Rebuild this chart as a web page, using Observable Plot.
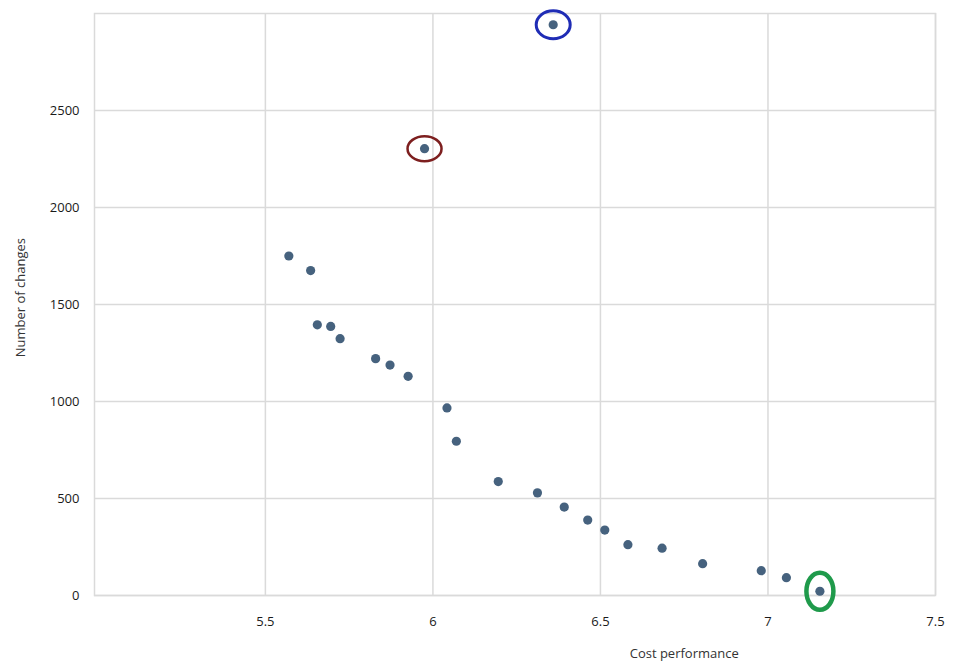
<!DOCTYPE html>
<html>
<head>
<meta charset="utf-8">
<script src="https://cdn.jsdelivr.net/npm/d3@7"></script>
<script src="https://cdn.jsdelivr.net/npm/@observablehq/plot@0.6"></script>
<style>
  html, body { margin: 0; padding: 0; background: #fff; }
  #chart svg { display: block; }
</style>
</head>
<body>
<div id="chart"></div>
<script>
// ---- data ----
const costPerformance = [5.570, 5.635, 5.655, 5.695, 5.723, 5.829, 5.872, 5.926, 5.975, 6.042, 6.070, 6.195, 6.312, 6.359, 6.392, 6.462, 6.513, 6.582, 6.684, 6.805, 6.980, 7.055, 7.155];
const numberOfChanges = [1750, 1675, 1395, 1387, 1324, 1221, 1188, 1130, 2303, 967, 795, 587, 529, 2942, 456, 389, 337, 262, 244, 164, 128, 92, 22];
// highlighted points (index into the series) and their ring colours
const highlightIndex = [8, 13, 22];
const highlightColor = ["#7d1f1f", "#1f2cb5", "#1f9a4b"];
const xTicks = [5.5, 6, 6.5, 7, 7.5];
const yTicks = [0, 500, 1000, 1500, 2000, 2500];
const xLabel = "Cost performance";
const yLabel = "Number of changes";

const data = costPerformance.map((x, i) => ({x, y: numberOfChanges[i]}));

function ellipseSymbol(rx, ry) {
  const k = 0.5522847;
  return {
    draw(ctx) {
      ctx.moveTo(rx, 0);
      ctx.bezierCurveTo(rx, k * ry, k * rx, ry, 0, ry);
      ctx.bezierCurveTo(-k * rx, ry, -rx, k * ry, -rx, 0);
      ctx.bezierCurveTo(-rx, -k * ry, -k * rx, -ry, 0, -ry);
      ctx.bezierCurveTo(k * rx, -ry, rx, -k * ry, rx, 0);
      ctx.closePath();
    }
  };
}
const ringShapes = [ellipseSymbol(17, 12.5), ellipseSymbol(17, 14), ellipseSymbol(13.5, 18.5)];
const ringWidths = [2.5, 3, 4.5];

const rings = highlightIndex.map((idx, k) =>
  Plot.dot([data[idx]], {
    x: "x", y: "y",
    symbol: ringShapes[k],
    stroke: highlightColor[k],
    strokeWidth: ringWidths[k],
    fill: "none"
  })
);

const fmt = d => String(d);

const chart = Plot.plot({
  width: 953,
  height: 664,
  marginLeft: 94,
  marginRight: 18,
  marginTop: 13,
  marginBottom: 69,
  style: {fontFamily: "'Open Sans', 'Liberation Sans', sans-serif", fontSize: "12px", color: "#333", background: "#fff"},
  x: {domain: [4.99, 7.5], label: null},
  y: {domain: [0, 3000], label: null},
  marks: [
    Plot.gridX(xTicks, {stroke: "#dadada", strokeOpacity: 1, strokeWidth: 1.5}),
    Plot.gridY(yTicks, {stroke: "#dadada", strokeOpacity: 1, strokeWidth: 1.5}),
    Plot.frame({stroke: "#dadada", strokeWidth: 1.5}),
    Plot.axisX(xTicks, {tickSize: 0, tickPadding: 21, tickFormat: fmt, fontSize: 13, fill: "#1a1a1a", label: null}),
    Plot.axisY(yTicks, {tickSize: 0, tickPadding: 15, tickFormat: fmt, fontSize: 13, fill: "#1a1a1a", label: null}),
    Plot.dot(data, {x: "x", y: "y", r: 4.6, fill: "#46627e", stroke: "none"}),
    ...rings,
    Plot.text([xLabel], {x: 6.75, frameAnchor: "bottom", dy: 58, lineAnchor: "middle", text: d => d, fontSize: 13, fill: "#333"}),
    Plot.text([yLabel], {y: 1228, frameAnchor: "left", dx: -74, rotate: -90, text: d => d, fontSize: 13, fill: "#333"})
  ]
});
document.getElementById("chart").appendChild(chart);
</script>
</body>
</html>
